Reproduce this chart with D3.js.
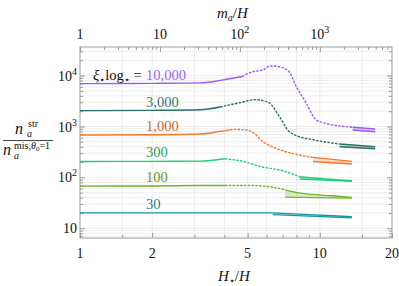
<!DOCTYPE html>
<html>
<head>
<meta charset="utf-8">
<script src="https://cdn.jsdelivr.net/npm/d3@7"></script>
<style>
  body { margin: 0; background: #fff; }
  svg, svg text { display: block; font-family: "Liberation Serif", "Times New Roman", "DejaVu Serif", serif; }
</style>
</head>
<body>
<svg id="chart" width="399" height="286"></svg>
<script>
// xi_* log_* values, one curve each
const xiLabels = ["30", "100", "300", "1,000", "3,000", "10,000"];

const h30 = [1, 2, 3.17, 4.5, 6.37, 9, 13.6];
const n30 = [20.1, 20.1, 20.1, 20.1, 20.1, 18.6, 16.9];
const h100 = [1, 2, 3.17, 4.02, 5.12, 6.6, 7.16, 8.27, 11.35, 13.6];
const n100 = [67.5, 68, 69.3, 69.5, 69.3, 62.4, 57, 49, 43.5, 40.4];
const h300 = [1, 2, 3.17, 4.02, 4.65, 5.76, 6.82, 8.27, 10.5, 13.6];
const n300 = [206, 207, 209, 232, 212, 160, 139, 103, 93, 86];
const h1000 = [1, 2, 3.17, 3.84, 4.22, 4.36, 4.96, 5.37, 5.72, 6.2, 7.02, 9.36, 13.6];
const n1000 = [681, 690, 712, 801, 860, 878, 854, 712, 525, 419, 334, 247, 207];
const h3000 = [1, 2, 3.17, 3.84, 4.65, 5.37, 6.1, 6.82, 7.39, 8.01, 9.36, 12.1, 17];
const n3000 = [2050, 2080, 2140, 2420, 2940, 3370, 2980, 1510, 826, 659, 550, 453, 400];
const h10000 = [1, 2, 3.17, 3.96, 4.74, 5.27, 5.8, 6.2, 6.61, 7.37, 8.01, 8.82, 9.55, 10, 13.7, 17];
const n10000 = [6950, 7050, 7200, 8230, 9600, 11990, 12950, 15500, 15240, 12540, 5890, 2770, 1405, 1243, 968, 893];

// dashed stretch of each curve, then the lower estimate from fitFrom to the end
const dashFrom = [null, 4.02, 4.02, 4.22, 3.84, 4.74];
const fitFrom = [6.37, 7.16, 8.27, 9.36, 12.1, 13.7];
const lowStart = [18.6, 41, 93, 206, 400, 853];
const lowEnd = [16.0, 39.2, 84, 183, 365, 790];

const bottomTicks = [1, 2, 5, 10, 20];
const bottomMinor = [1.5, 3, 4, 6, 7, 8, 9, 15];
const bottomGrid = [1.5, 2, 3, 4, 5, 6, 8, 10, 15];
const topTicks = [1, 10, 100, 1000];
const leftTicks = [10, 100, 1000, 10000];

const lineColors = ["#1597a8", "#70b52a", "#1fcf7c", "#f5782a", "#2c6e6a", "#9a5cf5"];
const labelColors = ["#1f7f8f", "#5e9a24", "#25a36a", "#c8692e", "#3a7470", "#9966ee"];

const hs = [h30, h100, h300, h1000, h3000, h10000];
const ns = [n30, n100, n300, n1000, n3000, n10000];
const series = hs.map((h, i) => ({
  label: xiLabels[i],
  points: h.map((v, j) => [v, ns[i][j]]),
  dashFrom: dashFrom[i],
  fitFrom: fitFrom[i],
  low: [[fitFrom[i], lowStart[i]], [h[h.length - 1], lowEnd[i]]],
  color: lineColors[i],
  textColor: labelColors[i],
}));

const width = 399, height = 286;
const padding = { left: 80, right: 7, top: 47, bottom: 48 };
const svg = d3.select("#chart")
  .attr("font-family", '"Liberation Serif", "Times New Roman", "DejaVu Serif", serif');

const x = d3.scaleLog().domain([1, 20]).range([padding.left, width - padding.right]);
const xTop = d3.scaleLog().domain([1, 8000]).range([padding.left, width - padding.right]);
const y = d3.scaleLog().domain([6.45, 36500]).range([height - padding.bottom, padding.top]);

const minorOf = (lo, hi) => {
  const out = [];
  for (let p = lo; p <= hi; p *= 10)
    for (let k = 2; k <= 9; k++) out.push(k * p);
  return out;
};
const leftMinor = minorOf(1, 10000).filter((v) => v > 6.45 && v < 36500);
const topMinor = minorOf(1, 1000).filter((v) => v < 8000);

// grid
const grid = svg.append("g").attr("stroke", "#e8e8e8").attr("stroke-width", 0.8);
grid.selectAll(".vg").data(bottomGrid).join("line")
  .attr("x1", (d) => x(d)).attr("x2", (d) => x(d))
  .attr("y1", padding.top).attr("y2", height - padding.bottom);
grid.selectAll(".hg").data(leftMinor.concat(leftTicks)).join("line")
  .attr("x1", padding.left).attr("x2", width - padding.right)
  .attr("y1", (d) => y(d)).attr("y2", (d) => y(d));

// axes: inward ticks on all four sides
const tickAxis = (axis, scale, values, size, transform) =>
  svg.append("g")
    .attr("transform", transform)
    .call(axis(scale).tickValues(values).tickSize(-size).tickFormat(""))
    .call((g) => g.select(".domain").remove())
    .call((g) => g.selectAll("line").attr("stroke", "#9a9a9a"));

const bottomY = height - padding.bottom, rightX = width - padding.right;
tickAxis(d3.axisBottom, x, bottomTicks, 5, `translate(0,${bottomY})`);
tickAxis(d3.axisBottom, x, bottomMinor, 3, `translate(0,${bottomY})`);
tickAxis(d3.axisTop, xTop, topTicks, 5, `translate(0,${padding.top})`);
tickAxis(d3.axisTop, xTop, topMinor, 3, `translate(0,${padding.top})`);
tickAxis(d3.axisLeft, y, leftTicks, 5, `translate(${padding.left},0)`);
tickAxis(d3.axisLeft, y, leftMinor, 3, `translate(${padding.left},0)`);
tickAxis(d3.axisRight, y, leftTicks, 5, `translate(${rightX},0)`);
tickAxis(d3.axisRight, y, leftMinor, 3, `translate(${rightX},0)`);

svg.append("rect")
  .attr("x", padding.left).attr("y", padding.top)
  .attr("width", rightX - padding.left).attr("height", bottomY - padding.top)
  .attr("fill", "none").attr("stroke", "#9a9a9a").attr("stroke-width", 1);

// tick labels
const powLabel = (g, px, py, v, anchor) => {
  const e = Math.round(Math.log10(v));
  const t = g.append("text").attr("x", px).attr("y", py).attr("text-anchor", anchor);
  if (e <= 1) t.text(String(v));
  else {
    t.append("tspan").text("10");
    t.append("tspan").attr("dy", -6).attr("font-size", 10).text(e);
  }
};
const labels = svg.append("g").attr("font-size", 14).attr("fill", "#111");
bottomTicks.forEach((v) =>
  labels.append("text").attr("x", x(v)).attr("y", bottomY + 20)
    .attr("text-anchor", "middle").text(v));
topTicks.forEach((v) => powLabel(labels, xTop(v), padding.top - 8, v, "middle"));
leftTicks.forEach((v) => powLabel(labels, padding.left - 3, y(v) + 5, v, "end"));

// curves
const line = d3.line().x((d) => x(d[0])).y((d) => y(d[1])).curve(d3.curveMonotoneX);
const bandOf = (s) => {
  const upper = s.points.filter((d) => d[0] >= s.fitFrom);
  return upper.concat(s.low.slice().reverse());
};

const plot = svg.append("g");
series.forEach((s) => {
  const g = plot.append("g");
  g.append("path")
    .attr("d", d3.line().x((d) => x(d[0])).y((d) => y(d[1]))(bandOf(s)))
    .attr("fill", s.color).attr("fill-opacity", 0.25).attr("stroke", "none");
  const solidEnd = s.dashFrom == null ? s.fitFrom : s.dashFrom;
  const parts = [
    [s.points.filter((d) => d[0] <= solidEnd), null],
    [s.points.filter((d) => d[0] >= solidEnd && d[0] <= s.fitFrom), "2.5,1.3"],
    [s.points.filter((d) => d[0] >= s.fitFrom), null],
  ];
  parts.forEach(([pts, dash]) => {
    if (pts.length < 2) return;
    g.append("path").attr("d", line(pts))
      .attr("fill", "none").attr("stroke", s.color).attr("stroke-width", 1.4)
      .attr("stroke-dasharray", dash);
  });
  g.append("path").attr("d", line(s.low))
    .attr("fill", "none").attr("stroke", s.color).attr("stroke-width", 1.4);

  g.append("text")
    .attr("x", 146).attr("y", y(s.points[0][1]) - 4)
    .attr("font-size", 14.5).attr("fill", s.textColor).text(s.label);
});

// xi label prefix
const xi = svg.append("text").attr("x", 93).attr("y", y(n10000[0]) - 4)
  .attr("font-size", 14.5).attr("fill", "#111");
xi.append("tspan").attr("font-style", "italic").text("ξ");
xi.append("tspan").attr("font-size", 10).attr("dy", 3).text("⋆");
xi.append("tspan").attr("dy", -3).text("log");
xi.append("tspan").attr("font-size", 10).attr("dy", 3).text("⋆");
xi.append("tspan").attr("dy", -3).text(" = ");

// axis titles
const topTitle = svg.append("text").attr("x", 217).attr("y", 18).attr("font-size", 15).attr("fill", "#111");
topTitle.append("tspan").attr("font-style", "italic").text("m");
topTitle.append("tspan").attr("font-style", "italic").attr("font-size", 10).attr("dy", 3).text("a");
topTitle.append("tspan").attr("dy", -3).text("/");
topTitle.append("tspan").attr("font-style", "italic").text("H");

const botTitle = svg.append("text").attr("x", 218).attr("y", 281).attr("font-size", 15).attr("fill", "#111");
botTitle.append("tspan").attr("font-style", "italic").text("H");
botTitle.append("tspan").attr("font-size", 10).attr("dy", 3).text("⋆");
botTitle.append("tspan").attr("dy", -3).text("/");
botTitle.append("tspan").attr("font-style", "italic").text("H");

const yl = svg.append("g").attr("fill", "#111");
yl.append("text").attr("x", 15).attr("y", 134).attr("font-size", 16)
  .attr("font-style", "italic").text("n");
yl.append("text").attr("x", 28).attr("y", 127).attr("font-size", 10).text("str");
yl.append("text").attr("x", 27).attr("y", 137).attr("font-size", 10)
  .attr("font-style", "italic").text("a");
yl.append("line").attr("x1", 3).attr("x2", 53).attr("y1", 140.5).attr("y2", 140.5)
  .attr("stroke", "#444").attr("stroke-width", 1);
yl.append("text").attr("x", 3).attr("y", 155).attr("font-size", 16)
  .attr("font-style", "italic").text("n");
const mis = yl.append("text").attr("x", 14).attr("y", 149).attr("font-size", 10);
mis.append("tspan").text("mis,");
mis.append("tspan").attr("font-style", "italic").text("θ");
mis.append("tspan").attr("font-size", 7).attr("dy", 2).text("0");
mis.append("tspan").attr("dy", -2).text("=1");
yl.append("text").attr("x", 14).attr("y", 159).attr("font-size", 10)
  .attr("font-style", "italic").text("a");
</script>
</body>
</html>
